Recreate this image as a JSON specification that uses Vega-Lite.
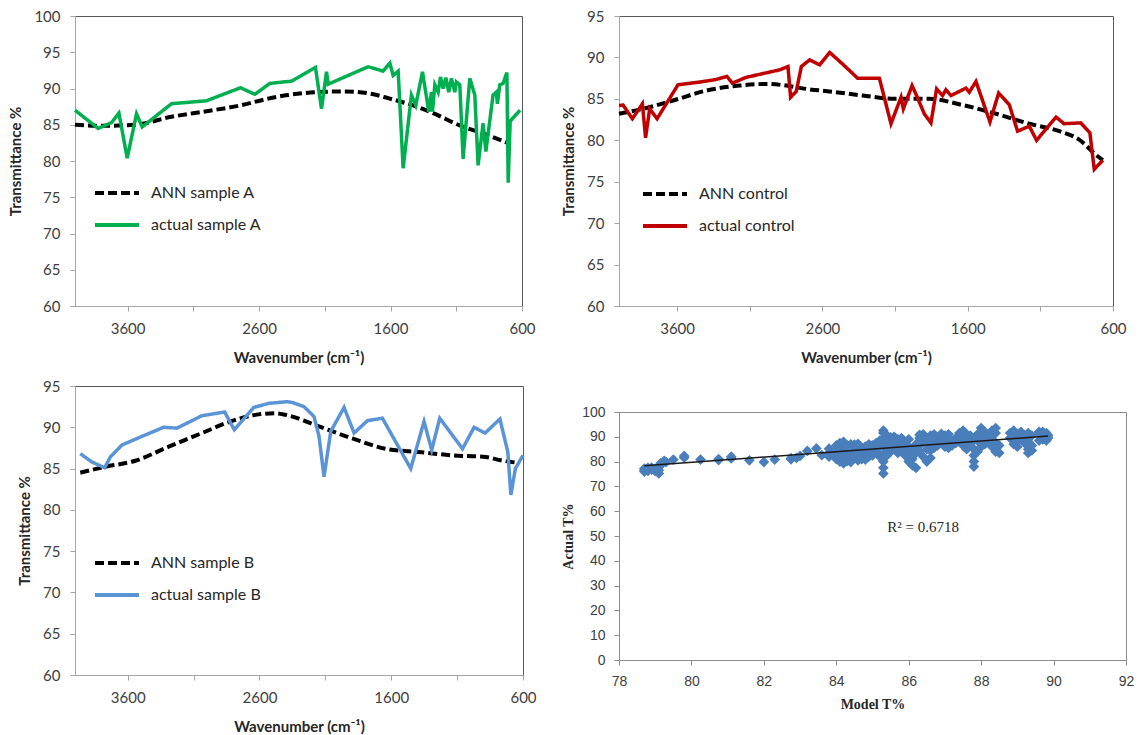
{
  "$schema": "https://vega.github.io/schema/vega-lite/v6.json",
  "background": "white",
  "padding": {"left": 8, "top": 8, "right": 0, "bottom": 0},
  "spacing": 24,
  "config": {
    "view": {"stroke": "#595959", "strokeWidth": 1},
    "axis": {"grid": false, "domainColor": "#a6a6a6", "tickColor": "#a6a6a6", "labelFont": "Lato", "titleFont": "Lato", "labelColor": "#404040", "titleColor": "#262626", "labelFontSize": 15, "titleFontSize": 15, "titleFontWeight": "bold", "tickSize": 5, "labelPadding": 10, "titlePadding": 10},
    "legend": {"title": null, "orient": "none", "symbolType": "stroke", "symbolSize": 1936, "symbolStrokeWidth": 4, "labelFont": "Lato", "labelFontSize": 16, "labelColor": "#262626", "rowPadding": -14, "labelOffset": 10, "padding": 0, "labelLimit": 300}
  },
  "datasets": {
    "p1": [
      {"w":4000,"t":85.0,"s":"ANN sample A"},{"w":3824,"t":84.85,"s":"ANN sample A"},{"w":3545,"t":85.0,"s":"ANN sample A"},{"w":3266,"t":86.1,"s":"ANN sample A"},{"w":2987,"t":86.9,"s":"ANN sample A"},{"w":2734,"t":87.7,"s":"ANN sample A"},{"w":2531,"t":88.6,"s":"ANN sample A"},{"w":2379,"t":89.1,"s":"ANN sample A"},{"w":2163,"t":89.5,"s":"ANN sample A"},{"w":1960,"t":89.6,"s":"ANN sample A"},{"w":1757,"t":89.3,"s":"ANN sample A"},{"w":1605,"t":88.6,"s":"ANN sample A"},{"w":1403,"t":87.5,"s":"ANN sample A"},{"w":1276,"t":86.6,"s":"ANN sample A"},{"w":1073,"t":84.9,"s":"ANN sample A"},{"w":896,"t":83.8,"s":"ANN sample A"},{"w":710,"t":82.5,"s":"ANN sample A"},
      {"w":4000,"t":87.0,"s":"actual sample A"},{"w":3824,"t":84.5,"s":"actual sample A"},{"w":3722,"t":85.3,"s":"actual sample A"},{"w":3666,"t":86.6,"s":"actual sample A"},{"w":3603,"t":80.4,"s":"actual sample A"},{"w":3532,"t":86.5,"s":"actual sample A"},{"w":3489,"t":84.7,"s":"actual sample A"},{"w":3266,"t":87.9,"s":"actual sample A"},{"w":3000,"t":88.3,"s":"actual sample A"},{"w":2886,"t":89.1,"s":"actual sample A"},{"w":2741,"t":90.1,"s":"actual sample A"},{"w":2632,"t":89.2,"s":"actual sample A"},{"w":2518,"t":90.7,"s":"actual sample A"},{"w":2417,"t":90.9,"s":"actual sample A"},{"w":2354,"t":91.0,"s":"actual sample A"},{"w":2171,"t":92.9,"s":"actual sample A"},{"w":2125,"t":87.2,"s":"actual sample A"},{"w":2087,"t":92.3,"s":"actual sample A"},{"w":2074,"t":90.6,"s":"actual sample A"},{"w":1770,"t":93.0,"s":"actual sample A"},{"w":1657,"t":92.4,"s":"actual sample A"},{"w":1605,"t":93.5,"s":"actual sample A"},{"w":1580,"t":91.8,"s":"actual sample A"},{"w":1542,"t":92.4,"s":"actual sample A"},{"w":1504,"t":79.0,"s":"actual sample A"},{"w":1441,"t":89.1,"s":"actual sample A"},{"w":1408,"t":87.7,"s":"actual sample A"},{"w":1357,"t":92.3,"s":"actual sample A"},{"w":1309,"t":86.8,"s":"actual sample A"},{"w":1289,"t":89.5,"s":"actual sample A"},{"w":1281,"t":86.8,"s":"actual sample A"},{"w":1263,"t":90.5,"s":"actual sample A"},{"w":1238,"t":89.5,"s":"actual sample A"},{"w":1220,"t":91.6,"s":"actual sample A"},{"w":1200,"t":90.0,"s":"actual sample A"},{"w":1179,"t":91.5,"s":"actual sample A"},{"w":1157,"t":89.5,"s":"actual sample A"},{"w":1137,"t":91.4,"s":"actual sample A"},{"w":1111,"t":89.5,"s":"actual sample A"},{"w":1099,"t":90.9,"s":"actual sample A"},{"w":1073,"t":90.5,"s":"actual sample A"},{"w":1048,"t":80.3,"s":"actual sample A"},{"w":997,"t":91.4,"s":"actual sample A"},{"w":959,"t":89.1,"s":"actual sample A"},{"w":934,"t":79.4,"s":"actual sample A"},{"w":896,"t":85.2,"s":"actual sample A"},{"w":875,"t":81.3,"s":"actual sample A"},{"w":820,"t":89.1,"s":"actual sample A"},{"w":795,"t":89.5,"s":"actual sample A"},{"w":787,"t":87.9,"s":"actual sample A"},{"w":769,"t":90.5,"s":"actual sample A"},{"w":744,"t":90.7,"s":"actual sample A"},{"w":715,"t":92.2,"s":"actual sample A"},{"w":705,"t":77.0,"s":"actual sample A"},{"w":690,"t":85.5,"s":"actual sample A"},{"w":640,"t":86.5,"s":"actual sample A"},{"w":615,"t":87.0,"s":"actual sample A"}
    ],
    "p2": [
      {"w":4000,"t":83.2,"s":"ANN control"},{"w":3835,"t":83.8,"s":"ANN control"},{"w":3628,"t":84.8,"s":"ANN control"},{"w":3399,"t":86.0,"s":"ANN control"},{"w":3170,"t":86.6,"s":"ANN control"},{"w":2986,"t":86.8,"s":"ANN control"},{"w":2848,"t":86.6,"s":"ANN control"},{"w":2711,"t":86.2,"s":"ANN control"},{"w":2553,"t":85.9,"s":"ANN control"},{"w":2323,"t":85.4,"s":"ANN control"},{"w":2094,"t":85.0,"s":"ANN control"},{"w":1864,"t":85.0,"s":"ANN control"},{"w":1635,"t":84.25,"s":"ANN control"},{"w":1405,"t":83.2,"s":"ANN control"},{"w":1176,"t":82.0,"s":"ANN control"},{"w":969,"t":81.1,"s":"ANN control"},{"w":835,"t":80.1,"s":"ANN control"},{"w":708,"t":78.1,"s":"ANN control"},{"w":670,"t":77.6,"s":"ANN control"},
      {"w":4000,"t":84.2,"s":"actual control"},{"w":3972,"t":84.25,"s":"actual control"},{"w":3908,"t":82.6,"s":"actual control"},{"w":3839,"t":84.4,"s":"actual control"},{"w":3817,"t":80.3,"s":"actual control"},{"w":3789,"t":83.8,"s":"actual control"},{"w":3738,"t":82.6,"s":"actual control"},{"w":3594,"t":86.7,"s":"actual control"},{"w":3456,"t":87.0,"s":"actual control"},{"w":3342,"t":87.3,"s":"actual control"},{"w":3257,"t":87.7,"s":"actual control"},{"w":3220,"t":86.9,"s":"actual control"},{"w":3124,"t":87.6,"s":"actual control"},{"w":2895,"t":88.5,"s":"actual control"},{"w":2837,"t":88.9,"s":"actual control"},{"w":2819,"t":85.2,"s":"actual control"},{"w":2780,"t":85.9,"s":"actual control"},{"w":2745,"t":88.9,"s":"actual control"},{"w":2688,"t":89.7,"s":"actual control"},{"w":2619,"t":89.1,"s":"actual control"},{"w":2550,"t":90.6,"s":"actual control"},{"w":2461,"t":89.2,"s":"actual control"},{"w":2358,"t":87.5,"s":"actual control"},{"w":2208,"t":87.5,"s":"actual control"},{"w":2128,"t":82.0,"s":"actual control"},{"w":2059,"t":85.2,"s":"actual control"},{"w":2043,"t":83.8,"s":"actual control"},{"w":1983,"t":86.6,"s":"actual control"},{"w":1952,"t":85.4,"s":"actual control"},{"w":1899,"t":83.2,"s":"actual control"},{"w":1853,"t":82.1,"s":"actual control"},{"w":1814,"t":86.2,"s":"actual control"},{"w":1773,"t":85.4,"s":"actual control"},{"w":1750,"t":86.1,"s":"actual control"},{"w":1715,"t":85.4,"s":"actual control"},{"w":1612,"t":86.3,"s":"actual control"},{"w":1589,"t":85.8,"s":"actual control"},{"w":1543,"t":87.1,"s":"actual control"},{"w":1447,"t":82.2,"s":"actual control"},{"w":1387,"t":85.7,"s":"actual control"},{"w":1314,"t":84.3,"s":"actual control"},{"w":1257,"t":81.1,"s":"actual control"},{"w":1176,"t":81.7,"s":"actual control"},{"w":1126,"t":80.0,"s":"actual control"},{"w":992,"t":82.8,"s":"actual control"},{"w":937,"t":82.0,"s":"actual control"},{"w":822,"t":82.1,"s":"actual control"},{"w":759,"t":80.9,"s":"actual control"},{"w":729,"t":76.5,"s":"actual control"},{"w":670,"t":77.6,"s":"actual control"}
    ],
    "p3": [
      {"w":3960,"t":84.5,"s":"ANN sample B"},{"w":3775,"t":85.2,"s":"ANN sample B"},{"w":3542,"t":85.95,"s":"ANN sample B"},{"w":3289,"t":87.65,"s":"ANN sample B"},{"w":3037,"t":89.3,"s":"ANN sample B"},{"w":2783,"t":90.9,"s":"ANN sample B"},{"w":2631,"t":91.5,"s":"ANN sample B"},{"w":2479,"t":91.7,"s":"ANN sample B"},{"w":2400,"t":91.5,"s":"ANN sample B"},{"w":2148,"t":90.1,"s":"ANN sample B"},{"w":1895,"t":88.65,"s":"ANN sample B"},{"w":1642,"t":87.4,"s":"ANN sample B"},{"w":1389,"t":87.0,"s":"ANN sample B"},{"w":1135,"t":86.6,"s":"ANN sample B"},{"w":882,"t":86.4,"s":"ANN sample B"},{"w":768,"t":86.0,"s":"ANN sample B"},{"w":640,"t":85.7,"s":"ANN sample B"},
      {"w":3960,"t":86.8,"s":"actual sample B"},{"w":3872,"t":85.8,"s":"actual sample B"},{"w":3775,"t":85.1,"s":"actual sample B"},{"w":3732,"t":86.4,"s":"actual sample B"},{"w":3644,"t":87.85,"s":"actual sample B"},{"w":3492,"t":88.9,"s":"actual sample B"},{"w":3327,"t":90.0,"s":"actual sample B"},{"w":3226,"t":89.9,"s":"actual sample B"},{"w":3037,"t":91.4,"s":"actual sample B"},{"w":2864,"t":91.85,"s":"actual sample B"},{"w":2791,"t":89.7,"s":"actual sample B"},{"w":2644,"t":92.4,"s":"actual sample B"},{"w":2530,"t":92.9,"s":"actual sample B"},{"w":2391,"t":93.1,"s":"actual sample B"},{"w":2350,"t":93.0,"s":"actual sample B"},{"w":2262,"t":92.5,"s":"actual sample B"},{"w":2186,"t":91.3,"s":"actual sample B"},{"w":2148,"t":88.9,"s":"actual sample B"},{"w":2110,"t":84.0,"s":"actual sample B"},{"w":2059,"t":89.5,"s":"actual sample B"},{"w":1958,"t":92.4,"s":"actual sample B"},{"w":1882,"t":89.3,"s":"actual sample B"},{"w":1781,"t":90.8,"s":"actual sample B"},{"w":1667,"t":91.1,"s":"actual sample B"},{"w":1452,"t":85.0,"s":"actual sample B"},{"w":1351,"t":90.7,"s":"actual sample B"},{"w":1293,"t":87.25,"s":"actual sample B"},{"w":1232,"t":91.1,"s":"actual sample B"},{"w":1059,"t":87.4,"s":"actual sample B"},{"w":971,"t":90.0,"s":"actual sample B"},{"w":888,"t":89.3,"s":"actual sample B"},{"w":775,"t":91.0,"s":"actual sample B"},{"w":715,"t":87.0,"s":"actual sample B"},{"w":692,"t":81.8,"s":"actual sample B"},{"w":658,"t":85.0,"s":"actual sample B"},{"w":600,"t":86.6,"s":"actual sample B"}
    ],
    "p4": [
      {"m":78.7,"a":76.5},{"m":78.7,"a":77.2},{"m":78.7,"a":76.0},{"m":78.8,"a":77.5},{"m":78.8,"a":76.3},{"m":78.9,"a":76.8},{"m":78.9,"a":77.6},{"m":79.0,"a":76.2},{"m":79.0,"a":77.0},{"m":79.1,"a":75.2},{"m":79.1,"a":76.5},{"m":79.1,"a":77.8},{"m":79.15,"a":78.5},{"m":79.15,"a":79.3},{"m":79.25,"a":80.3},{"m":79.3,"a":79.8},{"m":79.5,"a":80.8},{"m":79.8,"a":82.3},{"m":79.8,"a":81.6},{"m":80.25,"a":80.8},{"m":80.75,"a":80.6},{"m":80.75,"a":81.0},{"m":81.1,"a":82.0},{"m":81.1,"a":81.3},{"m":81.6,"a":80.5},{"m":82.0,"a":79.8},{"m":82.3,"a":80.8},{"m":82.75,"a":80.9},{"m":82.75,"a":81.4},{"m":82.9,"a":81.5},{"m":83.0,"a":82.3},{"m":83.2,"a":84.3},{"m":83.45,"a":85.3},{"m":83.6,"a":82.6},
      {"m":83.8,"a":83.5},{"m":83.8,"a":82.0},{"m":83.8,"a":85.2},{"m":84.0,"a":81.0},{"m":84.0,"a":84.0},{"m":84.0,"a":86.5},{"m":84.0,"a":82.5},{"m":84.1,"a":80.0},{"m":84.1,"a":87.5},{"m":84.1,"a":83.3},{"m":84.2,"a":79.3},{"m":84.2,"a":85.5},{"m":84.2,"a":88.0},{"m":84.2,"a":82.0},{"m":84.3,"a":81.5},{"m":84.3,"a":86.5},{"m":84.3,"a":84.0},{"m":84.3,"a":80.2},{"m":84.4,"a":83.0},{"m":84.4,"a":87.0},{"m":84.4,"a":79.8},{"m":84.5,"a":85.0},{"m":84.5,"a":82.0},{"m":84.5,"a":86.8},{"m":84.6,"a":80.5},{"m":84.6,"a":83.8},{"m":84.6,"a":87.2},{"m":84.7,"a":82.5},{"m":84.7,"a":85.5},{"m":84.7,"a":81.0},{"m":84.8,"a":84.0},{"m":84.8,"a":86.0},{"m":84.8,"a":80.8},{"m":84.9,"a":83.0},{"m":84.9,"a":87.0},{"m":84.9,"a":82.0},{"m":85.0,"a":85.0},{"m":85.0,"a":86.5},{"m":85.0,"a":82.5},{"m":85.1,"a":84.0},{"m":85.1,"a":87.5},{"m":85.1,"a":83.5},{"m":85.2,"a":86.0},{"m":85.2,"a":82.0},{"m":85.2,"a":88.5},
      {"m":85.3,"a":75.2},{"m":85.3,"a":77.5},{"m":85.3,"a":80.0},{"m":85.3,"a":83.0},{"m":85.3,"a":86.0},{"m":85.3,"a":89.0},{"m":85.3,"a":91.5},{"m":85.3,"a":92.5},{"m":85.4,"a":82.5},{"m":85.4,"a":85.5},{"m":85.4,"a":88.0},{"m":85.4,"a":90.5},{"m":85.5,"a":84.0},{"m":85.5,"a":87.5},{"m":85.5,"a":89.8},{"m":85.6,"a":85.0},{"m":85.6,"a":88.0},{"m":85.6,"a":90.0},{"m":85.7,"a":86.0},{"m":85.7,"a":89.0},{"m":85.7,"a":83.5},{"m":85.8,"a":87.0},{"m":85.8,"a":85.5},{"m":85.8,"a":89.5},{"m":85.9,"a":84.5},{"m":85.9,"a":82.5},{"m":85.9,"a":88.0},{"m":86.0,"a":83.0},{"m":86.0,"a":86.0},{"m":86.0,"a":80.0},{"m":86.0,"a":89.0},{"m":86.1,"a":81.0},{"m":86.1,"a":78.5},{"m":86.1,"a":85.0},{"m":86.2,"a":77.5},{"m":86.2,"a":83.5},{"m":86.2,"a":87.0},{"m":86.3,"a":86.5},{"m":86.3,"a":89.5},{"m":86.3,"a":90.8},{"m":86.3,"a":84.0},{"m":86.4,"a":88.0},{"m":86.4,"a":91.0},{"m":86.4,"a":82.0},{"m":86.5,"a":80.0},{"m":86.5,"a":85.0},{"m":86.5,"a":89.0},{"m":86.6,"a":81.5},{"m":86.6,"a":84.5},{"m":86.6,"a":87.5},{"m":86.6,"a":90.5},{"m":86.7,"a":88.5},{"m":86.7,"a":91.0},{"m":86.7,"a":85.5},{"m":86.8,"a":86.5},{"m":86.8,"a":89.5},{"m":86.8,"a":87.0},{"m":86.9,"a":90.0},{"m":86.9,"a":91.2},{"m":86.9,"a":88.0},
      {"m":87.0,"a":86.0},{"m":87.0,"a":89.0},{"m":87.0,"a":90.5},{"m":87.1,"a":87.0},{"m":87.1,"a":91.0},{"m":87.1,"a":85.5},{"m":87.2,"a":86.5},{"m":87.2,"a":88.5},{"m":87.3,"a":87.5},{"m":87.3,"a":89.5},{"m":87.4,"a":90.0},{"m":87.4,"a":88.0},{"m":87.4,"a":91.5},{"m":87.5,"a":86.5},{"m":87.5,"a":89.5},{"m":87.5,"a":92.5},{"m":87.6,"a":88.0},{"m":87.6,"a":91.0},{"m":87.6,"a":85.0},{"m":87.7,"a":87.0},{"m":87.7,"a":90.5},{"m":87.8,"a":78.0},{"m":87.8,"a":80.0},{"m":87.8,"a":82.5},{"m":87.8,"a":85.0},{"m":87.8,"a":89.0},{"m":87.9,"a":84.0},{"m":87.9,"a":88.5},{"m":87.9,"a":91.0},{"m":88.0,"a":86.0},{"m":88.0,"a":90.0},{"m":88.0,"a":93.5},{"m":88.0,"a":88.5},{"m":88.1,"a":87.0},{"m":88.1,"a":92.0},{"m":88.1,"a":89.5},{"m":88.2,"a":88.0},{"m":88.2,"a":90.5},{"m":88.3,"a":89.0},{"m":88.3,"a":92.5},{"m":88.3,"a":86.0},{"m":88.4,"a":84.0},{"m":88.4,"a":91.5},{"m":88.4,"a":93.5},{"m":88.4,"a":87.5},{"m":88.5,"a":83.5},{"m":88.5,"a":86.5},
      {"m":88.8,"a":89.5},{"m":88.8,"a":91.5},{"m":88.9,"a":87.0},{"m":88.9,"a":90.5},{"m":88.9,"a":92.5},{"m":89.0,"a":86.0},{"m":89.0,"a":88.0},{"m":89.0,"a":91.0},{"m":89.1,"a":89.5},{"m":89.1,"a":92.0},{"m":89.2,"a":87.5},{"m":89.2,"a":90.0},{"m":89.3,"a":83.5},{"m":89.3,"a":85.0},{"m":89.3,"a":88.0},{"m":89.3,"a":91.5},{"m":89.4,"a":84.5},{"m":89.4,"a":86.5},{"m":89.4,"a":90.5},{"m":89.6,"a":88.5},{"m":89.6,"a":91.5},{"m":89.6,"a":92.0},{"m":89.7,"a":89.0},{"m":89.7,"a":91.0},{"m":89.7,"a":92.0},{"m":89.8,"a":88.5},{"m":89.8,"a":90.0},{"m":89.8,"a":91.5},{"m":89.85,"a":90.5},{"m":89.85,"a":89.5}
    ],
    "fit": [{"m":78.7,"a":78.3},{"m":89.85,"a":90.3}],
    "r2": [{"m":86.4,"a":53.5,"label":"R² = 0.6718"}]
  },
  "resolve": {"scale": {"color": "independent", "strokeDash": "independent", "x": "independent", "y": "independent"}, "legend": {"color": "independent", "strokeDash": "independent"}},
  "hconcat": [
    {
      "bounds": "flush",
      "spacing": 80,
      "resolve": {"scale": {"color": "independent", "strokeDash": "independent", "x": "independent", "y": "independent"}, "legend": {"color": "independent", "strokeDash": "independent"}},
      "vconcat": [
        {
          "width": 447, "height": 290,
          "data": {"name": "p1"},
          "encoding": {
            "x": {"field": "w", "type": "quantitative", "scale": {"domain": [600, 4000], "reverse": true, "nice": false, "zero": false}, "axis": {"title": "Wavenumber (cm⁻¹)", "values": [3600, 3100, 2600, 2100, 1600, 1100, 600], "format": "d", "labelExpr": "datum.value % 1000 == 600 ? datum.label : ''", "labelFlush": false, "labelOverlap": false, "titlePadding": 14}},
            "y": {"field": "t", "type": "quantitative", "scale": {"domain": [60, 100], "nice": false, "zero": false}, "axis": {"title": "Transmittance %", "values": [60, 65, 70, 75, 80, 85, 90, 95, 100]}},
            "color": {"field": "s", "type": "nominal", "scale": {"domain": ["ANN sample A", "actual sample A"], "range": ["#000000", "#00b050"]}, "legend": {"legendX": 18, "legendY": 153}},
            "strokeDash": {"field": "s", "type": "nominal", "scale": {"domain": ["ANN sample A", "actual sample A"], "range": [[9, 4], [1, 0]]}, "legend": {"legendX": 18, "legendY": 153}}
          },
          "layer": [
            {"transform": [{"filter": "datum.s == 'ANN sample A'"}], "mark": {"type": "line", "strokeWidth": 4, "interpolate": "monotone"}},
            {"transform": [{"filter": "datum.s != 'ANN sample A'"}], "mark": {"type": "line", "strokeWidth": 3.5}}
          ]
        },
        {
          "width": 448, "height": 289,
          "data": {"name": "p3"},
          "encoding": {
            "x": {"field": "w", "type": "quantitative", "scale": {"domain": [600, 4000], "reverse": true, "nice": false, "zero": false}, "axis": {"title": "Wavenumber (cm⁻¹)", "values": [3600, 3100, 2600, 2100, 1600, 1100, 600], "format": "d", "labelExpr": "datum.value % 1000 == 600 ? datum.label : ''", "labelFlush": false, "labelOverlap": false, "titlePadding": 14}},
            "y": {"field": "t", "type": "quantitative", "scale": {"domain": [60, 95], "nice": false, "zero": false}, "axis": {"title": "Transmittance %", "values": [60, 65, 70, 75, 80, 85, 90, 95]}},
            "color": {"field": "s", "type": "nominal", "scale": {"domain": ["ANN sample B", "actual sample B"], "range": ["#000000", "#5b94d6"]}, "legend": {"legendX": 18, "legendY": 153}},
            "strokeDash": {"field": "s", "type": "nominal", "scale": {"domain": ["ANN sample B", "actual sample B"], "range": [[9, 4], [1, 0]]}, "legend": {"legendX": 18, "legendY": 153}}
          },
          "layer": [
            {"transform": [{"filter": "datum.s == 'ANN sample B'"}], "mark": {"type": "line", "strokeWidth": 4, "interpolate": "monotone"}},
            {"transform": [{"filter": "datum.s != 'ANN sample B'"}], "mark": {"type": "line", "strokeWidth": 3.5}}
          ]
        }
      ]
    },
    {
      "bounds": "flush",
      "spacing": 106,
      "resolve": {"scale": {"color": "independent", "strokeDash": "independent", "x": "independent", "y": "independent"}, "legend": {"color": "independent", "strokeDash": "independent"}},
      "vconcat": [
        {
          "width": 494, "height": 290,
          "data": {"name": "p2"},
          "encoding": {
            "x": {"field": "w", "type": "quantitative", "scale": {"domain": [600, 4000], "reverse": true, "nice": false, "zero": false}, "axis": {"title": "Wavenumber (cm⁻¹)", "values": [3600, 3100, 2600, 2100, 1600, 1100, 600], "format": "d", "labelExpr": "datum.value % 1000 == 600 ? datum.label : ''", "labelFlush": false, "labelOverlap": false, "titlePadding": 14}},
            "y": {"field": "t", "type": "quantitative", "scale": {"domain": [60, 95], "nice": false, "zero": false}, "axis": {"title": "Transmittance %", "values": [60, 65, 70, 75, 80, 85, 90, 95]}},
            "color": {"field": "s", "type": "nominal", "scale": {"domain": ["ANN control", "actual control"], "range": ["#000000", "#c00000"]}, "legend": {"legendX": 22, "legendY": 154}},
            "strokeDash": {"field": "s", "type": "nominal", "scale": {"domain": ["ANN control", "actual control"], "range": [[9, 4], [1, 0]]}, "legend": {"legendX": 22, "legendY": 154}}
          },
          "layer": [
            {"transform": [{"filter": "datum.s == 'ANN control'"}], "mark": {"type": "line", "strokeWidth": 4, "interpolate": "monotone"}},
            {"transform": [{"filter": "datum.s != 'ANN control'"}], "mark": {"type": "line", "strokeWidth": 3.5}}
          ]
        },
        {
          "width": 507, "height": 248,
          "view": {"stroke": "#8c8c8c"},
          "encoding": {
            "x": {"field": "m", "type": "quantitative", "scale": {"domain": [78, 92], "nice": false, "zero": false}, "axis": {"title": "Model  T%", "values": [78, 80, 82, 84, 86, 88, 90, 92], "labelFont": "Liberation Sans", "labelFontSize": 14, "titleFont": "Liberation Serif", "titleFontSize": 14, "labelPadding": 9, "titlePadding": 9, "labelFlush": false, "domainColor": "#8c8c8c", "tickColor": "#8c8c8c"}},
            "y": {"field": "a", "type": "quantitative", "scale": {"domain": [0, 100], "nice": false}, "axis": {"title": "Actual T%", "values": [0, 10, 20, 30, 40, 50, 60, 70, 80, 90, 100], "labelFont": "Liberation Sans", "labelFontSize": 14, "titleFont": "Liberation Serif", "titleFontSize": 14, "labelPadding": 9, "titlePadding": 6, "domainColor": "#8c8c8c", "tickColor": "#8c8c8c"}}
          },
          "layer": [
            {"data": {"name": "p4"}, "mark": {"type": "point", "shape": "diamond", "filled": true, "size": 115, "color": "#4a7ebb", "opacity": 1}},
            {"data": {"name": "fit"}, "mark": {"type": "line", "color": "#1a1a1a", "strokeWidth": 1.5}},
            {"data": {"name": "r2"}, "mark": {"type": "text", "font": "Liberation Serif", "fontSize": 15, "color": "#262626"}, "encoding": {"text": {"field": "label"}}}
          ]
        }
      ]
    }
  ]
}
